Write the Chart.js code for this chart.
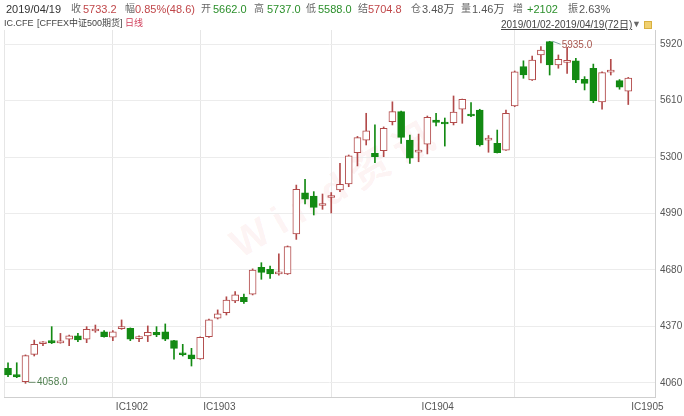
<!DOCTYPE html>
<html>
<head>
<meta charset="utf-8">
<script src="https://cdn.jsdelivr.net/npm/chart.js@4/dist/chart.umd.min.js"></script>
<style>
  html, body { margin: 0; padding: 0; background: #fff; }
  #wrap { position: relative; width: 684px; height: 416px; overflow: hidden;
          font-family: "Liberation Sans", "Noto Sans CJK SC", sans-serif; }
  #kline { position: absolute; left: 0; top: 0; }
  .t { position: absolute; white-space: nowrap; line-height: 1; }
  .h { top: 3.5px; font-size: 11px; }
  .k { font-size: 10px; color: #666; top: 4px; }
  .red { color: #c0474a; }
  .green { color: #2b8f2b; }
  .gray { color: #555; }
  #mark { position: absolute; left: 232px; top: 215px; font: bold 40px "Liberation Sans", "Noto Sans CJK SC", sans-serif;
          letter-spacing: 10px; color: rgba(225, 90, 90, 0.08); transform: rotate(-30deg); transform-origin: left center; white-space: nowrap; }
</style>
</head>
<body>
<div id="wrap">
  <div id="mark">Wind资讯</div>
  <canvas id="kline" width="684" height="416"></canvas>

  <span class="t h" style="left:6px;color:#333">2019/04/19</span>
  <span class="t k" style="left:71px">收</span><span class="t h red" style="left:83px">5733.2</span>
  <span class="t k" style="left:125px">幅</span><span class="t h red" style="left:135px">0.85%(48.6)</span>
  <span class="t k" style="left:201px">开</span><span class="t h green" style="left:213px">5662.0</span>
  <span class="t k" style="left:254px">高</span><span class="t h green" style="left:267px">5737.0</span>
  <span class="t k" style="left:306px">低</span><span class="t h green" style="left:318px">5588.0</span>
  <span class="t k" style="left:358px">结</span><span class="t h red" style="left:368px">5704.8</span>
  <span class="t k" style="left:411px">仓</span><span class="t h gray" style="left:422px">3.48万</span>
  <span class="t k" style="left:461px">量</span><span class="t h gray" style="left:472px">1.46万</span>
  <span class="t k" style="left:513px">增</span><span class="t h green" style="left:527px">+2102</span>
  <span class="t k" style="left:568px">振</span><span class="t h gray" style="left:579px">2.63%</span>

  <span class="t" style="left:4px;top:18.5px;font-size:9px;color:#444">IC.CFE</span>
  <span class="t" style="left:37px;top:18.5px;font-size:9px;color:#444">[CFFEX中证500期货]</span>
  <span class="t" style="left:125px;top:18.5px;font-size:9px;color:#d2425e">日线</span>

  <span class="t" style="left:501px;top:20px;font-size:10px;color:#444;text-decoration:underline">2019/01/02-2019/04/19(72日)</span>
  <span class="t" style="left:632px;top:20px;font-size:9px;color:#666">▼</span>
  <span class="t" style="left:644px;top:21px;width:6px;height:6px;background:#f0d070;border:1px solid #d8b040"></span>
</div>

<script>
// trading days 2019/01/02 - 2019/04/19
const days = [
  '01-02','01-03','01-04','01-07','01-08','01-09','01-10','01-11','01-14','01-15','01-16',
  '01-17','01-18','01-21','01-22','01-23','01-24','01-25','01-28','01-29','01-30','01-31',
  '02-01','02-11','02-12','02-13','02-14','02-15','02-18','02-19','02-20','02-21','02-22',
  '02-25','02-26','02-27','02-28',
  '03-01','03-04','03-05','03-06','03-07','03-08','03-11','03-12','03-13','03-14','03-15',
  '03-18','03-19','03-20','03-21','03-22','03-25','03-26','03-27','03-28','03-29',
  '04-01','04-02','04-03','04-04','04-08','04-09','04-10','04-11','04-12','04-15','04-16',
  '04-17','04-18','04-19'
];

const open = [4141,4106,4067,4217,4275,4292,4280,4301,4318,4300,
  4345,4341,4311,4358,4360,4303,4318,4338,4341,4292,
  4219,4214,4192,4314,4415,4446,4510,4530,4547,4695,
  4684,4659,4658,4878,5104,5086,5034,5078,5119,5152,
  5324,5393,5320,5335,5494,5549,5393,5327,5371,5503,
  5487,5488,5562,5531,5558,5393,5375,5338,5580,5796,
  5723,5860,5933,5805,5819,5828,5726,5787,5603,5766,
  5719,5662];
const high = [4171,4171,4214,4295,4287,4369,4332,4323,4332,4369,
  4378,4347,4347,4406,4362,4318,4373,4369,4384,4294,
  4272,4250,4313,4410,4461,4533,4561,4548,4686,4720,
  4702,4768,4812,5146,5178,5110,5097,5105,5265,5311,
  5413,5540,5476,5465,5603,5552,5421,5426,5525,5540,
  5514,5635,5618,5599,5562,5418,5448,5558,5772,5828,
  5854,5906,5935,5860,5902,5841,5741,5810,5768,5836,
  5725,5737];
const low = [4095,4089,4058,4208,4265,4276,4278,4265,4287,4281,
  4338,4311,4292,4354,4292,4287,4287,4314,4292,4190,
  4208,4153,4190,4310,4411,4433,4501,4497,4543,4629,
  4634,4652,4655,4848,5042,4982,5013,4993,5110,5137,
  5251,5366,5269,5302,5476,5375,5265,5274,5317,5470,
  5360,5476,5485,5522,5360,5326,5322,5336,5576,5732,
  5720,5816,5750,5787,5759,5708,5668,5598,5562,5750,
  5672,5588];
const close = [4104,4093,4210,4272,4280,4280,4282,4318,4296,4355,
  4348,4314,4341,4360,4301,4305,4338,4323,4300,4250,
  4215,4192,4311,4406,4439,4515,4543,4506,4680,4667,
  4658,4662,4808,5123,5068,5024,5037,5082,5150,5306,
  5406,5444,5302,5458,5549,5408,5293,5330,5518,5490,
  5481,5547,5616,5525,5366,5397,5324,5540,5768,5750,
  5832,5887,5805,5836,5821,5723,5704,5609,5763,5769,
  5683,5733.2];

const yTicks = [4060, 4370, 4680, 4990, 5300, 5610, 5920];
const contractLabels = { 12: 'IC1902', 22: 'IC1903', 47: 'IC1904', 71: 'IC1905' };
const gridDays = [12, 22, 37, 58];

const UP = '#b24a4a';
const DOWN = '#138a13';
const xMin = -0.46, xMax = 74.06;

const isUp = open.map((o, i) => close[i] >= o);
const lineColor = isUp.map(u => u ? UP : DOWN);

const extremes = {
  id: 'extremes',
  afterDatasetsDraw(chart) {
    const { ctx, scales: { x, y } } = chart;
    const hi = high.indexOf(Math.max(...high));
    const lo = low.indexOf(Math.min(...low));
    ctx.save();
    ctx.font = '10px "Liberation Sans"';
    ctx.textBaseline = 'middle';
    ctx.lineWidth = 1;

    let px = x.getPixelForValue(hi), py = y.getPixelForValue(high[hi]);
    ctx.strokeStyle = '#7fa6a6';
    ctx.beginPath(); ctx.moveTo(px + 3, py); ctx.lineTo(px + 11, py + 3); ctx.stroke();
    ctx.fillStyle = '#a8564e';
    ctx.fillText(high[hi].toFixed(1), px + 12, py + 4);

    px = x.getPixelForValue(lo); py = y.getPixelForValue(low[lo]);
    ctx.strokeStyle = '#6d8f6d';
    ctx.beginPath(); ctx.moveTo(px + 3, py - 1); ctx.lineTo(px + 10, py - 1); ctx.stroke();
    ctx.fillStyle = '#4f7f4f';
    ctx.fillText(low[lo].toFixed(1), px + 11.5, py - 1.5);
    ctx.restore();
  }
};

new Chart(document.getElementById('kline'), {
  type: 'bar',
  data: {
    labels: days,
    datasets: [{
      label: 'body',
      data: days.map((d, i) => ({ x: i, y: [open[i], close[i]] })),
      backgroundColor: isUp.map(u => u ? '#ffffff' : DOWN),
      borderColor: lineColor,
      borderWidth: 1,
      borderSkipped: false,
      barThickness: 7,
      minBarLength: 2,
      grouped: false,
      order: 1
    }, {
      label: 'wick',
      data: days.map((d, i) => ({ x: i, y: [low[i], high[i]] })),
      backgroundColor: lineColor,
      borderWidth: 0,
      barThickness: 1,
      grouped: false,
      order: 2
    }]
  },
  options: {
    responsive: false,
    animation: false,
    layout: { padding: { top: 30, left: 3, right: 0, bottom: 0 } },
    plugins: { legend: { display: false }, tooltip: { enabled: false } },
    scales: {
      x: {
        type: 'linear',
        offset: false,
        min: xMin,
        max: xMax,
        afterFit: s => { s.height = 19 },
        afterBuildTicks: s => {
          s.ticks = [xMin, 12, 22, 37, 47, 58, 71].map(v => ({ value: v }))
        },
        grid: {
          offset: false,
          drawTicks: false,
          color: c => (c.tick && (gridDays.includes(c.tick.value) || c.tick.value === xMin)) ? '#e6e6e6' : 'rgba(0,0,0,0)'
        },
        border: { color: '#cfcfcf' },
        ticks: {
          autoSkip: false,
          maxRotation: 0,
          align: 'start',
          labelOffset: 3,
          padding: 4,
          color: '#555',
          font: { family: 'Liberation Sans', size: 10 },
          callback: v => contractLabels[v] || ''
        }
      },
      y: {
        position: 'right',
        min: 3983,
        max: 5997,
        afterFit: s => { s.width = 29 },
        afterBuildTicks: s => { s.ticks = yTicks.map(v => ({ value: v })) },
        grid: { drawTicks: false, color: '#ececec' },
        border: { color: '#cfcfcf' },
        ticks: {
          padding: 5,
          color: '#555',
          font: { family: 'Liberation Sans', size: 10 },
          callback: v => String(v)
        }
      }
    }
  },
  plugins: [extremes]
});
</script>
</body>
</html>
